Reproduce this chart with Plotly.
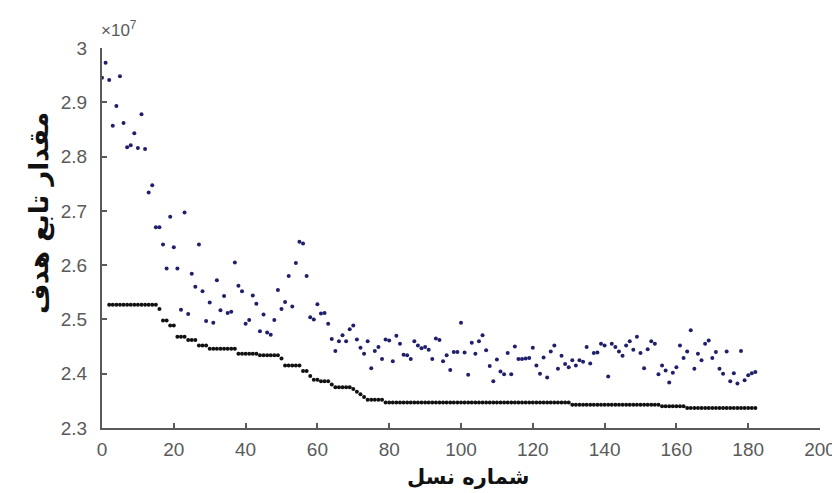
import plotly.graph_objects as go

# Generation numbers
gen_mean = list(range(0, 183))
# Mean objective value per generation (units of 1e7)
mean_vals = [
    2.945, 2.973, 2.941, 2.857, 2.893, 2.948, 2.862, 2.817, 2.821, 2.843,
    2.816, 2.878, 2.814, 2.734, 2.747, 2.670, 2.670, 2.638, 2.594, 2.689,
    2.633, 2.594, 2.518, 2.697, 2.510, 2.584, 2.560, 2.638, 2.552, 2.497,
    2.531, 2.494, 2.572, 2.517, 2.543, 2.512, 2.514, 2.605, 2.562, 2.552,
    2.492, 2.499, 2.544, 2.529, 2.478, 2.509, 2.476, 2.472, 2.499, 2.554,
    2.519, 2.532, 2.580, 2.524, 2.604, 2.643, 2.640, 2.580, 2.504, 2.500,
    2.528, 2.511, 2.512, 2.492, 2.464, 2.442, 2.460, 2.471, 2.460, 2.482,
    2.489, 2.463, 2.448, 2.437, 2.460, 2.410, 2.442, 2.449, 2.427, 2.463,
    2.461, 2.423, 2.470, 2.455, 2.435, 2.434, 2.427, 2.460, 2.452, 2.447,
    2.449, 2.444, 2.427, 2.465, 2.462, 2.423, 2.434, 2.407, 2.440, 2.440,
    2.494, 2.439, 2.398, 2.457, 2.437, 2.460, 2.471, 2.443, 2.414, 2.386,
    2.426, 2.404, 2.399, 2.438, 2.399, 2.450, 2.427, 2.427, 2.428, 2.429,
    2.448, 2.415, 2.400, 2.430, 2.393, 2.441, 2.452, 2.409, 2.433, 2.418,
    2.412, 2.425, 2.415, 2.425, 2.422, 2.449, 2.419, 2.438, 2.439, 2.455,
    2.452, 2.395, 2.455, 2.449, 2.441, 2.433, 2.452, 2.460, 2.444, 2.468,
    2.438, 2.410, 2.445, 2.460, 2.455, 2.399, 2.415, 2.406, 2.384, 2.402,
    2.412, 2.452, 2.429, 2.441, 2.480, 2.409, 2.437, 2.425, 2.455, 2.461,
    2.429, 2.440, 2.409, 2.400, 2.441, 2.386, 2.401, 2.382, 2.442, 2.388,
    2.397, 2.401, 2.403,
]

# Best objective value per generation (units of 1e7)
gen_best = list(range(2, 183))
best_vals = (
    [2.527] * 14 +            # 2-15
    [2.519] +                 # 16
    [2.498] * 2 +             # 17-18
    [2.489] * 2 +             # 19-20
    [2.468] * 3 +             # 21-23
    [2.462] * 3 +             # 24-26
    [2.452] * 3 +             # 27-29
    [2.446] * 8 +             # 30-37
    [2.437] * 6 +             # 38-43
    [2.434] * 6 +             # 44-49
    [2.428] +                 # 50
    [2.415] * 5 +             # 51-55
    [2.405] * 2 +             # 56-57
    [2.396] +                 # 58
    [2.389] * 2 +             # 59-60
    [2.386] * 3 +             # 61-63
    [2.380] +                 # 64
    [2.375] * 5 +             # 65-69
    [2.372, 2.367, 2.362, 2.357] +  # 70-73
    [2.352] * 5 +             # 74-78
    [2.347] * 52 +            # 79-130
    [2.343] * 25 +            # 131-155
    [2.340] * 7 +             # 156-162
    [2.337] * 20              # 163-182
)

x_ticks = list(range(0, 201, 20))
y_ticks = [2.3, 2.4, 2.5, 2.6, 2.7, 2.8, 2.9, 3.0]
y_tick_text = ["2.3", "2.4", "2.5", "2.6", "2.7", "2.8", "2.9", "3"]

x_title = "شماره نسل"
y_title = "مقدار تابع هدف"

fig = go.Figure()
fig.add_trace(go.Scatter(
    x=gen_mean, y=mean_vals, mode="markers",
    marker=dict(size=4, color="#1f1f6b"), showlegend=False,
))
fig.add_trace(go.Scatter(
    x=gen_best, y=best_vals, mode="markers",
    marker=dict(size=4, color="#111111"), showlegend=False,
))

axis_color = "#5a5a5a"
tick_font = dict(family="Liberation Sans, Arial, sans-serif", size=19, color="#5a5a5a")

fig.update_layout(
    width=840, height=493,
    margin=dict(l=94, r=17, t=40, b=73),
    paper_bgcolor="white", plot_bgcolor="white",
    xaxis=dict(
        range=[0, 200], tickvals=x_ticks, ticks="inside", ticklen=5,
        tickcolor=axis_color, tickwidth=1.5,
        showline=True, linecolor=axis_color, linewidth=2,
        showgrid=False, zeroline=False, tickfont=tick_font,
        ticklabelstandoff=3,
    ),
    yaxis=dict(
        range=[2.3, 3.0], tickvals=y_ticks, ticktext=y_tick_text,
        ticks="inside", ticklen=5, tickcolor=axis_color, tickwidth=1.5,
        showline=True, linecolor=axis_color, linewidth=2,
        showgrid=False, zeroline=False, tickfont=tick_font,
        ticklabelstandoff=9,
    ),
    annotations=[
        dict(text="×10<sup>7</sup>", xref="paper", yref="paper",
             x=-0.004, y=1.015, xanchor="left", yanchor="bottom",
             showarrow=False,
             font=dict(family="Liberation Sans, Arial, sans-serif", size=17, color="#5a5a5a")),
        dict(text="<b>" + x_title + "</b>", xref="paper", yref="paper",
             x=0.51, y=-0.128, xanchor="center", yanchor="middle",
             showarrow=False,
             font=dict(family="DejaVu Sans, sans-serif", size=21, color="#111111")),
        dict(text="<b>" + y_title + "</b>", xref="paper", yref="paper",
             x=-0.088, y=0.565, xanchor="center", yanchor="middle",
             textangle=-90, showarrow=False,
             font=dict(family="DejaVu Sans, sans-serif", size=26, color="#111111")),
    ],
)

fig.write_html("out.html")
